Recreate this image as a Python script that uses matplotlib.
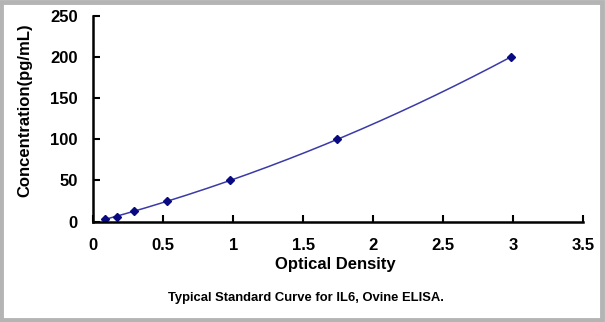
import numpy as np
import matplotlib.pyplot as plt
from matplotlib.patches import Rectangle

# standard curve readings
od = [0.084, 0.167, 0.293, 0.524, 0.98, 1.745, 2.985]
conc = [3.12, 6.25, 12.5, 25, 50, 100, 200]

x_ticks = [0, 0.5, 1, 1.5, 2, 2.5, 3, 3.5]
x_tick_labels = ['0', '0.5', '1', '1.5', '2', '2.5', '3', '3.5']
y_ticks = [0, 50, 100, 150, 200, 250]

plt.rcParams['font.family'] = ['Liberation Sans', 'DejaVu Sans']

fig = plt.figure(figsize=(6.05, 3.22), dpi=100)
ax = fig.add_axes([0.154, 0.3115, 0.81, 0.64])

# smooth fitted curve through the standards
coef = np.polyfit(od, conc, 3)
xs = np.linspace(min(od), max(od), 200)
ax.plot(xs, np.polyval(coef, xs), color='#3a3aa8', lw=1.1)
ax.plot(od, conc, linestyle='none', marker='D', ms=4.2, color='#0a0a80')

ax.set_xlim(0, 3.5)
ax.set_ylim(0, 250)
ax.set_xticks(x_ticks, x_tick_labels)
ax.set_yticks(y_ticks)
for s in ['top', 'right']:
    ax.spines[s].set_visible(False)
for s in ['left', 'bottom']:
    ax.spines[s].set_linewidth(1.8)
ax.tick_params(direction='in', length=5, width=1.5, labelsize=12)
ax.tick_params(axis='y', pad=11)
ax.tick_params(axis='x', pad=12)
for lbl in ax.get_xticklabels() + ax.get_yticklabels():
    lbl.set_fontweight('bold')

ax.set_xlabel('Optical Density', fontsize=12, fontweight='bold')
ax.set_ylabel('Concentration(pg/mL)', fontsize=12, fontweight='bold')
ax.xaxis.set_label_coords(0.495, -0.21)
ax.yaxis.set_label_coords(-0.139, 0.542)
ax.xaxis.label.set_va('center')
ax.yaxis.label.set_va('center')

fig.text(0.506, 0.0745, 'Typical Standard Curve for IL6, Ovine ELISA.',
         ha='center', va='center', fontsize=9.4, fontweight='bold')

# grey frame round the figure
fig.patches.append(Rectangle((0.002, 0.006), 0.993, 0.988, transform=fig.transFigure,
                             fill=False, edgecolor='#b4b4b4', lw=3.5))

fig.savefig('out.png', dpi=100)
